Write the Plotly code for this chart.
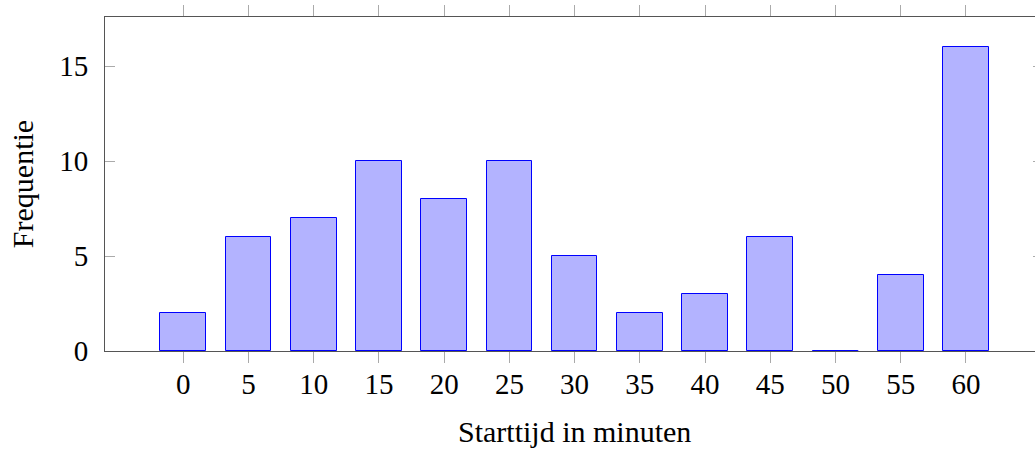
import plotly.graph_objects as go

minutes = [0, 5, 10, 15, 20, 25, 30, 35, 40, 45, 50, 55, 60]
frequency = [2, 6, 7, 10, 8, 10, 5, 2, 3, 6, 0, 4, 16]
x_ticks = minutes
y_ticks = [0, 5, 10, 15]

BAR_W = 3.5
FONT = "Liberation Serif"
FS = 29
TFS = 30

fig = go.Figure()
fig.add_trace(go.Bar(
    x=minutes, y=frequency, width=BAR_W,
    marker=dict(color="rgb(179,179,255)", line=dict(color="blue", width=1)),
    showlegend=False, hoverinfo="x+y",
))
# zero-height bars drawn as their outline (a flat blue line)
zx, zy = [], []
for m, f in zip(minutes, frequency):
    if f == 0:
        zx += [m - BAR_W / 2, m + BAR_W / 2, None]
        zy += [0, 0, None]
fig.add_trace(go.Scatter(x=zx, y=zy, mode="lines", line=dict(color="blue", width=1.5),
                         showlegend=False, hoverinfo="skip", cliponaxis=False))
# invisible trace to host right-side y ticks
fig.add_trace(go.Scatter(x=[None], y=[None], yaxis="y2", showlegend=False, hoverinfo="skip"))

xmax = -6 + (1035 - 105) / 13.045
fig.update_layout(
    width=1035, height=449,
    margin=dict(l=105, r=0, t=17, b=98),
    paper_bgcolor="white", plot_bgcolor="white",
    font=dict(family=FONT, size=FS, color="black"),
    xaxis=dict(
        range=[-6, xmax], tickvals=x_ticks, ticktext=[str(v) for v in x_ticks],
        ticks="outside", ticklen=11, tickwidth=1, tickcolor="#aaaaaa",
        showline=True, linecolor="#555555", linewidth=1, mirror="ticks",
        showgrid=False, zeroline=False, ticklabelstandoff=-4,
    ),
    yaxis=dict(
        range=[0, 17.6], tickvals=y_ticks, ticktext=[str(v) for v in y_ticks],
        ticks="inside", ticklen=10, tickwidth=1, tickcolor="#aaaaaa",
        showline=True, linecolor="#555555", linewidth=1,
        showgrid=False, zeroline=False, ticklabelstandoff=10,
        title=dict(text="Frequentie", standoff=16, font=dict(family=FONT, size=TFS)),
    ),
    yaxis2=dict(
        overlaying="y", side="right", range=[0, 17.6], tickvals=y_ticks,
        ticks="inside", ticklen=2, tickwidth=1, tickcolor="#aaaaaa",
        showticklabels=False, showline=False, showgrid=False, zeroline=False,
    ),
    annotations=[dict(
        text="Starttijd in minuten", xref="x", x=30, yref="paper", y=0,
        yshift=-80, yanchor="middle", showarrow=False, font=dict(family=FONT, size=TFS),
    )],
    bargap=0,
)

fig.write_html("out.html")
